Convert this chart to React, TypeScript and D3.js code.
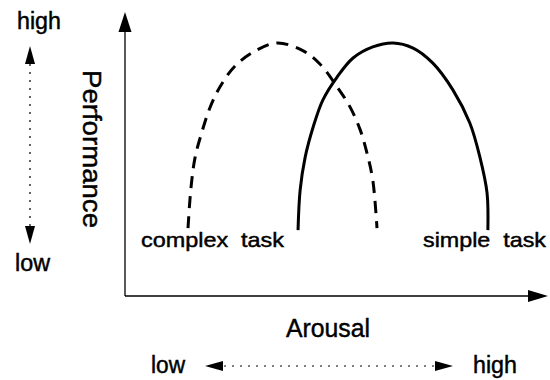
import React, { useRef, useEffect } from "react";
import * as d3 from "d3";

// arousal (0-100) vs performance (0-100)
const complexArousal = [15.0, 15.7, 16.7, 18.3, 20.2, 22.6, 26.2, 31.0, 36.2, 42.1, 46.4, 50.5, 53.6, 56.0, 57.6, 59.0, 60.0];
const complexPerf = [23.9, 38.0, 48.9, 57.7, 66.2, 73.6, 81.0, 86.3, 89.1, 86.6, 81.7, 73.6, 66.5, 58.5, 50.4, 40.8, 23.9];

const simpleArousal = [41.2, 41.7, 42.9, 44.8, 47.1, 50.5, 54.3, 59.0, 63.8, 68.6, 73.3, 78.1, 82.1, 84.5, 86.2, 86.4];
const simplePerf = [23.2, 37.3, 48.9, 59.5, 69.0, 77.1, 83.8, 87.7, 89.1, 87.3, 82.0, 72.5, 60.9, 48.9, 36.3, 23.2];

const curveLabels = ["complex  task", "simple  task"];
const levelLabels = ["low", "high"];
const axisTitles = ["Arousal", "Performance"];

const FONT = "'Liberation Sans', Arial, Helvetica, sans-serif";

const App = () => {
  const ref = useRef<SVGSVGElement>(null);

  useEffect(() => {
    const svg = d3.select(ref.current);
    svg.selectAll("*").remove();

    const xScale = d3.scaleLinear().domain([0, 100]).range([125, 545]);
    const yScale = d3.scaleLinear().domain([0, 100]).range([296, 12]);

    const [x0] = xScale.range();
    const [y0, y1] = yScale.range();

    // filled arrowhead with its tip at (tx, ty)
    const arrow = (tx: number, ty: number, dir: string, len: number, half: number) => {
      let pts: number[][] = [];
      if (dir === "up") pts = [[tx, ty], [tx - half, ty + len], [tx + half, ty + len]];
      if (dir === "down") pts = [[tx, ty], [tx - half, ty - len], [tx + half, ty - len]];
      if (dir === "right") pts = [[tx, ty], [tx - len, ty - half], [tx - len, ty + half]];
      if (dir === "left") pts = [[tx, ty], [tx + len, ty - half], [tx + len, ty + half]];
      svg.append("path")
        .attr("d", "M" + pts.map((p) => p.join(",")).join("L") + "Z")
        .attr("fill", "#000");
    };

    // main axes
    svg.append("line")
      .attr("x1", x0).attr("y1", y0)
      .attr("x2", x0).attr("y2", y1 + 8)
      .attr("stroke", "#000").attr("stroke-width", 1.3);
    arrow(x0, y1, "up", 20, 6.5);

    svg.append("line")
      .attr("x1", x0).attr("y1", y0)
      .attr("x2", 538).attr("y2", y0)
      .attr("stroke", "#000").attr("stroke-width", 1.3);
    arrow(548, y0, "right", 20, 6);

    const lineGenerator = d3.line().curve(d3.curveCatmullRom.alpha(0.5));

    const complexPts = complexArousal.map((d, i) => [xScale(d), yScale(complexPerf[i])] as [number, number]);
    const simplePts = simpleArousal.map((d, i) => [xScale(d), yScale(simplePerf[i])] as [number, number]);

    svg.append("path")
      .attr("d", lineGenerator(complexPts))
      .attr("fill", "none")
      .attr("stroke", "#000")
      .attr("stroke-width", 3)
      .attr("stroke-dasharray", "12,8");

    svg.append("path")
      .attr("d", lineGenerator(simplePts))
      .attr("fill", "none")
      .attr("stroke", "#000")
      .attr("stroke-width", 3);

    const text = (x: number, y: number, s: string, size: number, anchor = "start", w?: number) => {
      const t = svg.append("text")
        .attr("x", x).attr("y", y)
        .attr("font-family", FONT)
        .attr("font-size", size)
        .attr("text-anchor", anchor)
        .attr("fill", "#000")
        .attr("stroke", "#000")
        .attr("stroke-width", 0.45)
        .style("white-space", "pre")
        .text(s);
      if (w) t.attr("textLength", w).attr("lengthAdjust", "spacingAndGlyphs");
      return t;
    };

    // curve labels
    text(141, 247, curveLabels[0], 21, "start", 143);
    text(423, 247, curveLabels[1], 21, "start", 123);

    // y side: high / low with dotted arrow
    text(17, 29, levelLabels[1], 23, "start", 44);
    text(15, 271, levelLabels[0], 23, "start", 35);
    svg.append("line")
      .attr("x1", 30).attr("y1", 64).attr("x2", 30).attr("y2", 226)
      .attr("stroke", "#000").attr("stroke-width", 1.2)
      .attr("stroke-dasharray", "2,6");
    arrow(30, 46, "up", 18, 5);
    arrow(30, 244, "down", 18, 5);

    // Performance title, rotated clockwise
    text(0, 0, axisTitles[1], 26, "middle", 158)
      .attr("transform", "translate(83,149) rotate(90)");

    // x side: Arousal title, low / high with dotted arrow
    text(328, 337, axisTitles[0], 26, "middle", 84);
    text(151, 373, levelLabels[0], 23, "start", 34);
    text(473, 373, levelLabels[1], 23, "start", 44);
    svg.append("line")
      .attr("x1", 224).attr("y1", 366).attr("x2", 434).attr("y2", 366)
      .attr("stroke", "#000").attr("stroke-width", 1.2)
      .attr("stroke-dasharray", "2,6");
    arrow(205, 366, "left", 18, 5);
    arrow(453, 366, "right", 18, 5);
  }, []);

  return (
    <svg
      ref={ref}
      width={550}
      height={380}
      style={{ position: "absolute", left: 0, top: 0, background: "#fff" }}
    />
  );
};

export default App;
